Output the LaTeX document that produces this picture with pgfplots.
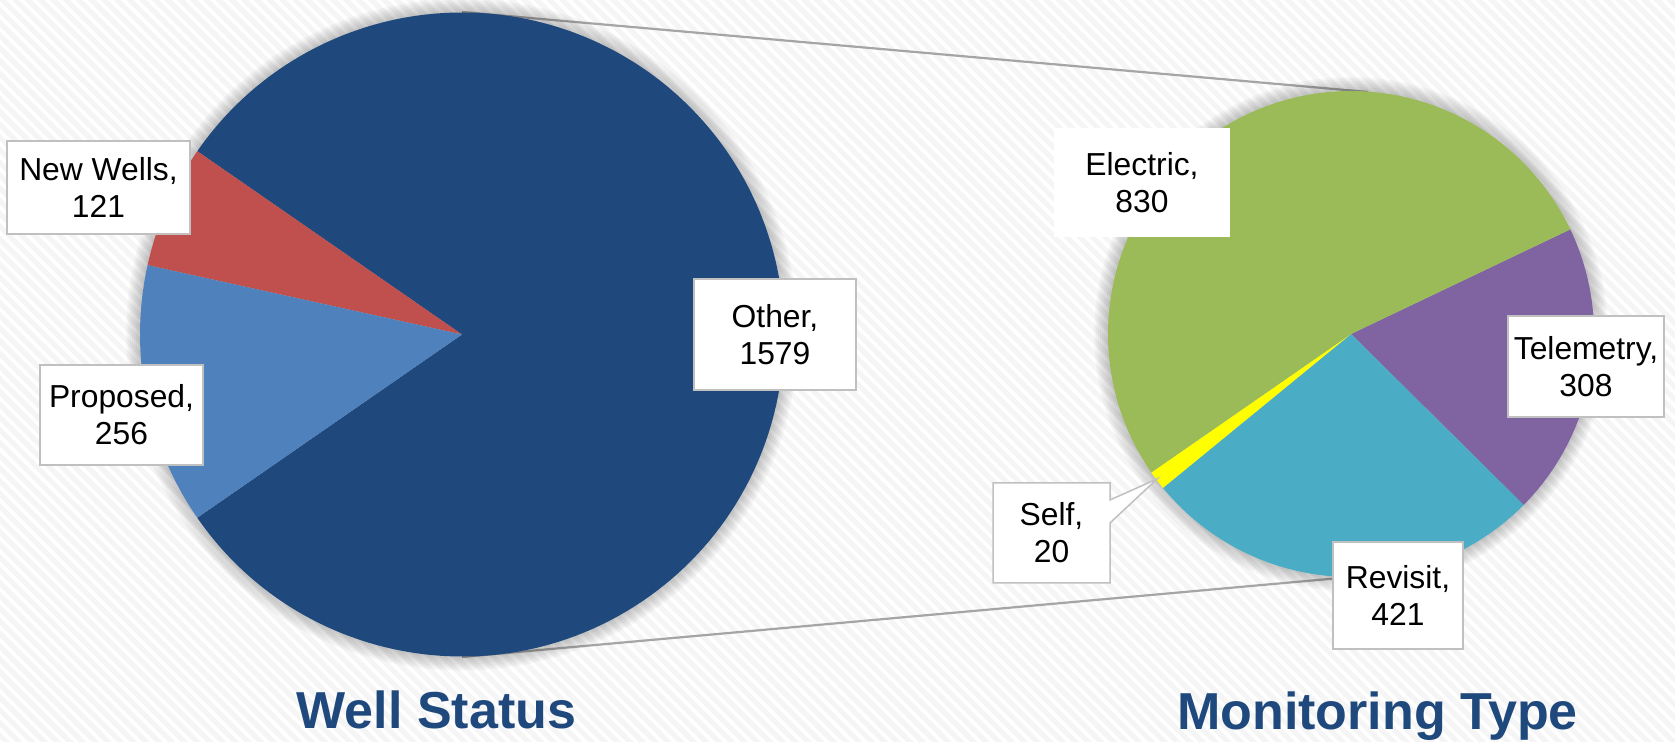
\documentclass[border=0pt]{standalone}
\usepackage{pgfplots}
\pgfplotsset{compat=1.18}
\usepackage{pgfplotstable}
\usepackage{fontspec}
\setmainfont{Liberation Sans}
\usetikzlibrary{patterns.meta}
\definecolor{cOther}{RGB}{31,73,125}
\definecolor{cNew}{RGB}{192,80,77}
\definecolor{cProp}{RGB}{79,129,189}
\definecolor{cElec}{RGB}{155,187,89}
\definecolor{cTele}{RGB}{128,100,162}
\definecolor{cRev}{RGB}{75,172,198}
\definecolor{cSelf}{RGB}{255,255,0}
\definecolor{cTitle}{RGB}{31,73,125}
\definecolor{cBox}{RGB}{192,192,192}
\definecolor{cLine}{RGB}{165,165,165}
\tikzset{lbl/.style={fill=white, draw=cBox, line width=0.75pt, inner sep=0pt, align=center,
     font=\fontsize{15.9}{18.4}\selectfont}}
\pgfplotstableread{
label value
Other 1579
NewWells 121
Proposed 256
}\wellstatus
\pgfplotstableread{
label value
Electric 830
Telemetry 308
Revisit 421
Self 20
}\montype
\pgfplotstablegetelem{0}{value}\of\wellstatus \edef\vO{\pgfplotsretval}
\pgfplotstablegetelem{1}{value}\of\wellstatus \edef\vN{\pgfplotsretval}
\pgfplotstablegetelem{2}{value}\of\wellstatus \edef\vP{\pgfplotsretval}
\pgfplotstablegetelem{0}{value}\of\montype \edef\vE{\pgfplotsretval}
\pgfplotstablegetelem{1}{value}\of\montype \edef\vT{\pgfplotsretval}
\pgfplotstablegetelem{2}{value}\of\montype \edef\vR{\pgfplotsretval}
\pgfplotstablegetelem{3}{value}\of\montype \edef\vS{\pgfplotsretval}
% left pie angles
\pgfmathsetmacro\totL{\vO+\vN+\vP}
\pgfmathsetmacro\aO{\vO/\totL*360}
\pgfmathsetmacro\Lz{-\aO/2}
\pgfmathsetmacro\La{\aO/2}
\pgfmathsetmacro\Lb{\La+\vN/\totL*360}
\pgfmathsetmacro\Lc{360-\aO/2}
% right pie angles (clockwise from 25.5 deg)
\pgfmathsetmacro\totR{\vE+\vT+\vR+\vS}
\pgfmathsetmacro\Rz{25.5}
\pgfmathsetmacro\Ra{\Rz-\vT/\totR*360}
\pgfmathsetmacro\Rb{\Ra-\vR/\totR*360}
\pgfmathsetmacro\Rc{\Rb-\vS/\totR*360}
\pgfmathsetmacro\Rd{\Rz-360}
\begin{document}%
\begin{tikzpicture}
\begin{axis}[
  hide axis, scale only axis, clip=false,
  x=0.5pt, y=0.5pt,
  xmin=0, xmax=1675, ymin=0, ymax=742,
]
% background
\fill[black!4] (axis cs:0,0) rectangle (axis cs:1675,742);
\fill[pattern={Lines[angle=-45,distance=4.5pt,line width=1.8pt]}, pattern color=white]
  (axis cs:0,0) rectangle (axis cs:1675,742);
% connector lines
\draw[cLine, line width=1.1pt] (axis cs:462,730) -- (axis cs:1368,650);
\draw[cLine, line width=1.1pt] (axis cs:462,85) -- (axis cs:1351,165);
% shadows
\pgfplotsinvokeforeach{1,2,3,4,5,6,7}{
  \fill[black, opacity=0.03] (axis cs:462,407.5) circle[radius=161pt+#1 pt];
  \fill[black, opacity=0.03] (axis cs:1351,408) circle[radius=121.5pt+#1 pt];
}
% left pie
\fill[cOther] (axis cs:462,407.5) -- ++(\Lz:161pt) arc[start angle=\Lz, end angle=\La, radius=161pt] -- cycle;
\fill[cNew] (axis cs:462,407.5) -- ++(\La:161pt) arc[start angle=\La, end angle=\Lb, radius=161pt] -- cycle;
\fill[cProp] (axis cs:462,407.5) -- ++(\Lb:161pt) arc[start angle=\Lb, end angle=\Lc, radius=161pt] -- cycle;
% right pie
\fill[cTele] (axis cs:1351,408) -- ++(\Rz:121.5pt) arc[start angle=\Rz, end angle=\Ra, radius=121.5pt] -- cycle;
\fill[cRev] (axis cs:1351,408) -- ++(\Ra:121.5pt) arc[start angle=\Ra, end angle=\Rb, radius=121.5pt] -- cycle;
\fill[cSelf] (axis cs:1351,408) -- ++(\Rb:121.5pt) arc[start angle=\Rb, end angle=\Rc, radius=121.5pt] -- cycle;
\fill[cElec] (axis cs:1351,408) -- ++(\Rc:121.5pt) arc[start angle=\Rc, end angle=\Rd, radius=121.5pt] -- cycle;
% labels
\node[lbl, minimum width=91.5pt, minimum height=46.5pt] at (axis cs:98.5,554.5) {New Wells,\\121};
\node[lbl, minimum width=81.5pt, minimum height=50pt] at (axis cs:121.5,327) {Proposed,\\256};
\node[lbl, minimum width=81pt, minimum height=55.5pt] at (axis cs:775,407.5) {Other,\\1579};
\node[lbl, draw=none, minimum width=88pt, minimum height=54.5pt] at (axis cs:1142,559.5) {Electric,\\830};
\node[lbl, minimum width=78pt, minimum height=50.5pt] at (axis cs:1586,375.5) {Telemetry,\\308};
\node[lbl, minimum width=65pt, minimum height=53.5pt] at (axis cs:1398,146.5) {Revisit,\\421};
\fill[white] (axis cs:993,259) -- (axis cs:1110,259) -- (axis cs:1110,242) -- (axis cs:1157,263)
  -- (axis cs:1110,219) -- (axis cs:1110,159) -- (axis cs:993,159) -- cycle;
\draw[cBox, line width=0.75pt, line join=miter] (axis cs:993,259) -- (axis cs:1110,259) -- (axis cs:1110,242) -- (axis cs:1157,263)
  -- (axis cs:1110,219) -- (axis cs:1110,159) -- (axis cs:993,159) -- cycle;
\node[align=center, font=\fontsize{15.9}{18.4}\selectfont] at (axis cs:1051.5,209) {Self,\\20};
% titles
\node[anchor=base, text=cTitle, font=\fontsize{26}{30}\selectfont\bfseries] at (axis cs:436.5,13) {Well Status};
\node[anchor=base, text=cTitle, font=\fontsize{26}{30}\selectfont\bfseries] at (axis cs:1377.5,12) {Monitoring Type};
\end{axis}
\pgfresetboundingbox
\path[use as bounding box] (current axis.south west) rectangle (current axis.north east);
\end{tikzpicture}%
\end{document}
